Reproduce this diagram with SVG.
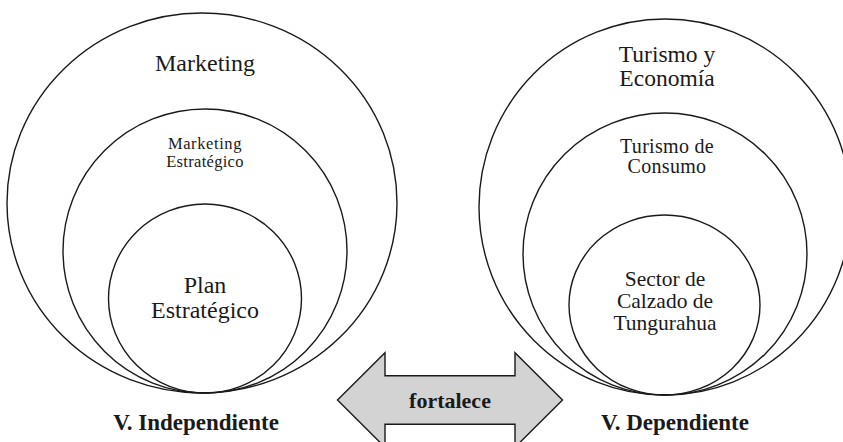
<svg xmlns="http://www.w3.org/2000/svg" width="843" height="442" viewBox="0 0 843 442">
<style>
.c{fill:none;stroke:#1a1a1a;stroke-width:1.4}
.t{font-family:"Liberation Serif","Times New Roman",serif;fill:#1a1a1a;text-anchor:middle}
.b{font-weight:bold}
.arrow{fill:#d3d3d3;stroke:#1a1a1a;stroke-width:1.4;stroke-linejoin:miter}
</style>
<rect width="843" height="442" fill="#fff"/>
<g id="marketing">
<ellipse class="c" cx="202" cy="203" rx="195" ry="190"/>
<text class="t" x="205" y="71" font-size="24">Marketing</text>
</g>
<g id="marketing-estrategico">
<ellipse class="c" cx="205" cy="251" rx="142" ry="142"/>
<text class="t" x="205" y="149" font-size="16.5" letter-spacing="0.6">Marketing</text>
<text class="t" x="205" y="167" font-size="16.5" letter-spacing="0.3">Estratégico</text>
</g>
<g id="plan-estrategico">
<ellipse class="c" cx="205" cy="298.5" rx="96.5" ry="94.5"/>
<text class="t" x="205" y="293" font-size="24">Plan</text>
<text class="t" x="205" y="318" font-size="24">Estratégico</text>
</g>
<g id="v-independiente">
<text class="t b" x="196" y="430" font-size="23">V. Independiente</text>
</g>
<g id="turismo-economia">
<ellipse class="c" cx="665" cy="207" rx="186" ry="188"/>
<text class="t" x="667" y="62" font-size="23.5">Turismo y</text>
<text class="t" x="667" y="86" font-size="23.5">Economía</text>
</g>
<g id="turismo-consumo">
<ellipse class="c" cx="665" cy="254" rx="142" ry="141"/>
<text class="t" x="667" y="153" font-size="20" letter-spacing="0.3">Turismo de</text>
<text class="t" x="667" y="173" font-size="20" letter-spacing="0.3">Consumo</text>
</g>
<g id="sector-calzado">
<ellipse class="c" cx="664.5" cy="305" rx="95.5" ry="90"/>
<text class="t" x="665" y="286" font-size="21.5">Sector de</text>
<text class="t" x="665" y="308" font-size="21.5">Calzado de</text>
<text class="t" x="665" y="330" font-size="21.5">Tungurahua</text>
</g>
<g id="v-dependiente">
<text class="t b" x="675" y="430" font-size="23">V. Dependiente</text>
</g>
<g id="connectors">
<g id="fortalece">
<polygon class="arrow" points="337.5,400 385,352.7 385,375.7 515,375.7 515,352.7 562.5,400 515,447.3 515,424.3 385,424.3 385,447.3"/>
<text class="t b" x="450" y="408" font-size="22">fortalece</text>
</g>
</g>
</svg>
